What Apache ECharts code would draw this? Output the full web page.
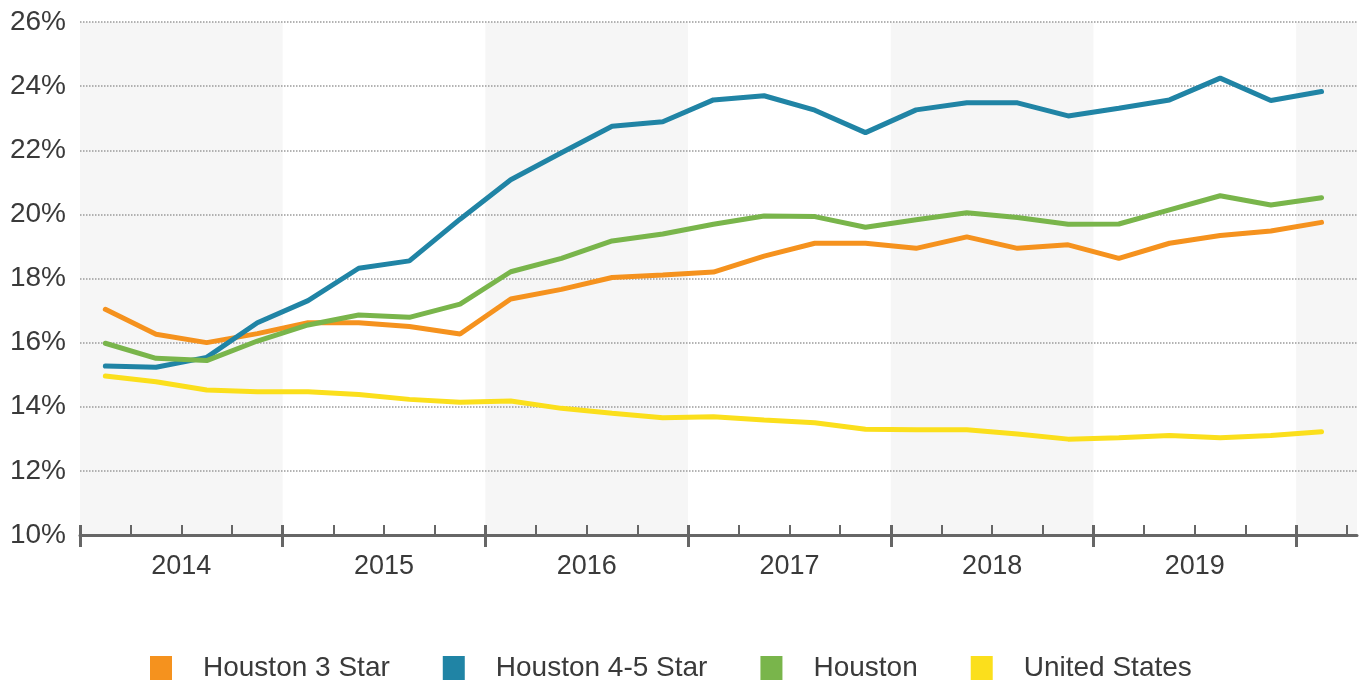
<!DOCTYPE html>
<html>
<head>
<meta charset="utf-8">
<title>Houston vacancy</title>
<script src="https://cdn.jsdelivr.net/npm/echarts@6/dist/echarts.min.js"></script>
<style>
  html, body { margin: 0; padding: 0; background: #fff; }
  #main { width: 1363px; height: 686px; }
</style>
</head>
<body>
<div id="main"></div>
<script>
// years shown under the axis, one per 4 quarters
var years = ['2014', '2015', '2016', '2017', '2018', '2019'];
// quarterly values, 2014 Q1 .. 2020 Q1 (%)
var houston3Star = [17.04, 16.26, 16.0, 16.28, 16.62, 16.62, 16.5, 16.27, 17.36, 17.66, 18.03, 18.11, 18.2, 18.7, 19.1, 19.1, 18.94, 19.3, 18.94, 19.05, 18.63, 19.1, 19.34, 19.48, 19.75];
var houston45Star = [15.27, 15.23, 15.54, 16.62, 17.31, 18.32, 18.55, 19.85, 21.08, 21.92, 22.75, 22.89, 23.57, 23.7, 23.25, 22.55, 23.26, 23.48, 23.48, 23.07, 23.31, 23.57, 24.25, 23.55, 23.83];
var houstonAll = [15.98, 15.51, 15.44, 16.05, 16.55, 16.86, 16.79, 17.2, 18.21, 18.63, 19.17, 19.39, 19.69, 19.95, 19.93, 19.6, 19.83, 20.05, 19.9, 19.69, 19.7, 20.14, 20.58, 20.29, 20.52];
var unitedStates = [14.96, 14.78, 14.52, 14.47, 14.47, 14.38, 14.23, 14.14, 14.18, 13.95, 13.8, 13.66, 13.69, 13.59, 13.5, 13.3, 13.28, 13.28, 13.15, 12.99, 13.03, 13.1, 13.03, 13.1, 13.22];
var yTicks = [10, 12, 14, 16, 18, 20, 22, 24, 26];

var font = 'Liberation Sans, Arial, sans-serif';
var xMax = 25.2; // axis runs a bit past the last quarter

// quarter k sits in the middle of its slot
function toPoints(arr) {
    return arr.map(function (v, k) { return [k + 0.5, v]; });
}

var yearStarts = years.map(function (y, i) { return i * 4; });
yearStarts.push(years.length * 4);
var yearMids = years.map(function (y, i) { return i * 4 + 2; });
var quarterEdges = [];
for (var q = 0; q <= houston3Star.length; q++) quarterEdges.push(q);

// grey band on every other year (2014, 2016, 2018, 2020)
var bands = [];
for (var b = 0; b < yearStarts.length; b += 2) {
    bands.push([{ xAxis: yearStarts[b] }, { xAxis: Math.min(yearStarts[b] + 4, xMax) }]);
}

function lineSeries(name, color, arr) {
    return {
        name: name,
        type: 'line',
        xAxisIndex: 0,
        symbol: 'none',
        silent: true,
        z: 3,
        color: color,
        lineStyle: { width: 5, color: color, cap: 'round' },
        data: toPoints(arr)
    };
}

function tickAxis(values, inside, length, width) {
    return {
        type: 'value',
        min: 0,
        max: xMax,
        position: 'bottom',
        z: 2,
        splitLine: { show: false },
        axisLine: { show: false },
        axisLabel: { show: false },
        axisTick: { show: true, inside: inside, length: length, customValues: values, lineStyle: { color: '#666', width: width } }
    };
}

var myChart = echarts.init(document.getElementById('main'));
var option = {
    animation: false,
    backgroundColor: '#fff',
    grid: { left: 80, right: 6, top: 22, bottom: 151 },
    legend: {
        left: 145,
        top: 649,
        icon: 'rect',
        itemWidth: 22,
        itemHeight: 24,
        itemGap: 53,
        textStyle: { fontFamily: font, fontSize: 28, color: '#3a3a3a', padding: [0, 0, 0, 26] },
        data: ['Houston 3 Star', 'Houston 4-5 Star', 'Houston', 'United States']
    },
    xAxis: [
        {
            type: 'value',
            min: 0,
            max: xMax,
            position: 'bottom',
            z: 2,
            splitLine: { show: false },
            axisLine: { show: true, lineStyle: { color: '#666', width: 3 } },
            axisTick: { show: true, inside: false, length: 12, customValues: yearStarts, lineStyle: { color: '#666', width: 3 } },
            axisLabel: {
                show: true,
                customValues: yearMids,
                margin: 18,
                fontFamily: font,
                fontSize: 27,
                color: '#3a3a3a',
                formatter: function (v) { return years[Math.round((v - 2) / 4)]; }
            }
        },
        tickAxis(quarterEdges, true, 10, 2),
        tickAxis(yearStarts, true, 10, 3)
    ],
    yAxis: {
        type: 'value',
        min: yTicks[0],
        max: yTicks[yTicks.length - 1],
        interval: 2,
        z: 2,
        axisLine: { show: false },
        axisTick: { show: false },
        axisLabel: { margin: 14, fontFamily: font, fontSize: 28, color: '#3a3a3a', formatter: '{value}%' },
        splitLine: { show: true, lineStyle: { type: 'dotted', color: '#9a9a9a', width: 1.5 } }
    },
    series: [
        {
            name: 'bands',
            type: 'line',
            z: 0,
            silent: true,
            data: [],
            markArea: { silent: true, z: 0, itemStyle: { color: '#f6f6f6' }, data: bands }
        },
        lineSeries('Houston 3 Star', '#f5921e', houston3Star),
        lineSeries('Houston 4-5 Star', '#2084a5', houston45Star),
        lineSeries('Houston', '#79b54b', houstonAll),
        lineSeries('United States', '#fbdf1c', unitedStates)
    ]
};
myChart.setOption(option);
</script>
</body>
</html>
